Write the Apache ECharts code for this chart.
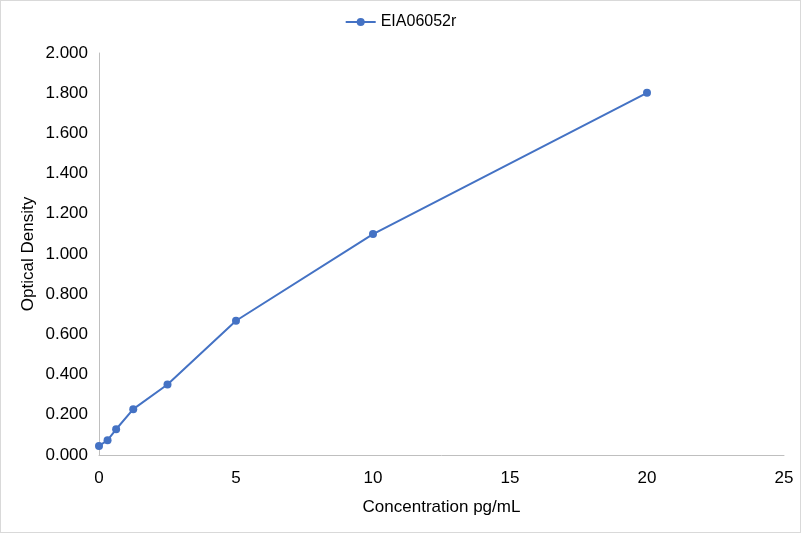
<!DOCTYPE html>
<html>
<head>
<meta charset="utf-8">
<script src="https://cdn.jsdelivr.net/npm/echarts@6/dist/echarts.min.js"></script>
<style>
  html, body { margin: 0; padding: 0; background: #fff; }
  #report { width: 801px; height: 533px; box-sizing: border-box; border: 1px solid #d9d9d9; }
</style>
</head>
<body>
<div id="report"></div>
<script>
// 标准曲线数据
var seriesName = "EIA06052r";
var concentration = [0, 0.3125, 0.625, 1.25, 2.5, 5, 10, 20];
var opticalDensity = [0.045, 0.074, 0.128, 0.228, 0.351, 0.668, 1.099, 1.802];

var points = concentration.map(function (x, i) { return [x, opticalDensity[i]]; });

var myChart = echarts.init(document.getElementById("report"));
var textFont = { fontFamily: "Liberation Sans, Arial", fontSize: 17, color: "#000" };

var option = {
    animation: false,
    legend: {
        top: 8,
        left: "center",
        itemWidth: 30,
        itemHeight: 10,
        textStyle: { fontFamily: "Liberation Sans, Arial", fontSize: 16, color: "#000" },
        data: [seriesName]
    },
    grid: {
        left: 98,
        right: 16,
        top: 52,
        bottom: 77
    },
    xAxis: {
        type: "value",
        min: 0,
        max: 25,
        interval: 5,
        name: "Concentration pg/mL",
        nameLocation: "middle",
        nameGap: 44,
        nameTextStyle: textFont,
        axisLine: { show: true, lineStyle: { color: "#bfbfbf", width: 1 } },
        axisTick: { show: false },
        splitLine: { show: false },
        axisLabel: Object.assign({ margin: 15 }, textFont)
    },
    yAxis: {
        type: "value",
        min: 0,
        max: 2,
        interval: 0.2,
        name: "Optical Density",
        nameLocation: "middle",
        nameGap: 62,
        nameMoveOverlap: false,
        nameTextStyle: textFont,
        axisLine: { show: true, lineStyle: { color: "#bfbfbf", width: 1 } },
        axisTick: { show: false },
        splitLine: { show: false },
        axisLabel: Object.assign({
            margin: 11,
            formatter: function (v) { return v.toFixed(3); }
        }, textFont)
    },
    series: [{
        name: seriesName,
        type: "line",
        data: points,
        symbol: "circle",
        symbolSize: 8,
        itemStyle: { color: "#4472c4" },
        lineStyle: { color: "#4472c4", width: 2 }
    }]
};
myChart.setOption(option);
</script>
</body>
</html>
